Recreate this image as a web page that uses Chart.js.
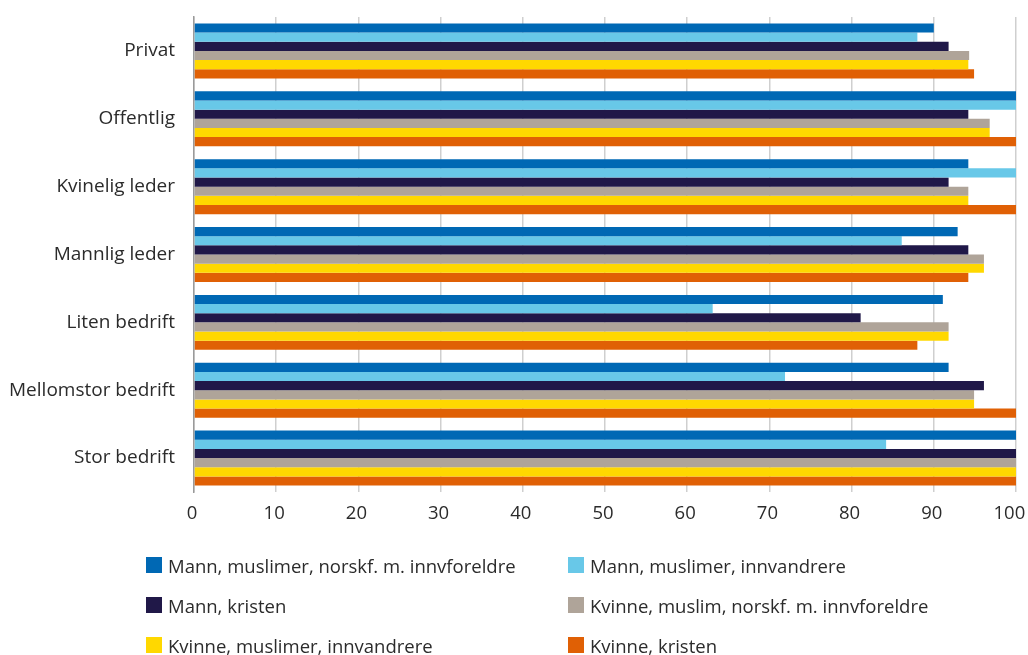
<!DOCTYPE html>
<html lang="no">
<head>
<meta charset="utf-8">
<title>Andel positive svar etter gruppe og arbeidsgiver</title>
<script src="https://cdn.jsdelivr.net/npm/chart.js@4/dist/chart.umd.min.js"></script>
<style>
  html, body { margin: 0; padding: 0; background: #fff; }
  body { width: 1028px; height: 655px; position: relative; overflow: hidden; font-family: "Open Sans", "DejaVu Sans", sans-serif; }
  #wrap { position: absolute; left: 0; top: 0; width: 1028px; height: 540px; }
  #legend { position: absolute; left: 0; top: 0; width: 1028px; height: 655px; pointer-events: none; }
  .item { position: absolute; height: 16px; display: flex; align-items: center; white-space: nowrap; font-size: 18.5px; color: #2b2b2b; }
  .box { width: 16px; height: 16px; margin-right: 6px; flex: none; }
</style>
</head>
<body>
<div id="wrap"><canvas id="chart"></canvas></div>
<div id="legend"></div>
<script>
// Categories (employer / contact-person type)
const categories = [
  "Privat",
  "Offentlig",
  "Kvinelig leder",
  "Mannlig leder",
  "Liten bedrift",
  "Mellomstor bedrift",
  "Stor bedrift"
];

// Series names
const seriesNames = [
  "Mann, muslimer, norskf. m. innvforeldre",
  "Mann, muslimer, innvandrere",
  "Mann, kristen",
  "Kvinne, muslim, norskf. m. innvforeldre",
  "Kvinne, muslimer, innvandrere",
  "Kvinne, kristen"
];

// Values per series, one per category (percent)
const mannMuslimNorskf   = [90,   100,  94.2, 92.9, 91.1, 91.8, 100];
const mannMuslimInnv     = [88,   100,  100,  86.1, 63.1, 71.9, 84.2];
const mannKristen        = [91.8, 94.2, 91.8, 94.2, 81.1, 96.1, 100];
const kvinneMuslimNorskf = [94.3, 96.8, 94.2, 96.1, 91.8, 94.9, 100];
const kvinneMuslimInnv   = [94.2, 96.8, 94.2, 96.1, 91.8, 94.9, 100];
const kvinneKristen      = [94.9, 100,  100,  94.2, 88.0, 100,  100];

// Value axis ticks
const xTicks = [0, 10, 20, 30, 40, 50, 60, 70, 80, 90, 100];

const seriesColors = ["#0068b4", "#68c8e8", "#201848", "#afa499", "#ffd800", "#e06005"];
const seriesValues = [mannMuslimNorskf, mannMuslimInnv, mannKristen, kvinneMuslimNorskf, kvinneMuslimInnv, kvinneKristen];

const FAMILY = '"Open Sans", "DejaVu Sans", sans-serif';
const TEXT = "#2b2b2b";

const datasets = seriesNames.map((name, i) => ({
  label: name,
  data: seriesValues[i],
  backgroundColor: seriesColors[i],
  borderWidth: 0,
  categoryPercentage: 0.81,
  barPercentage: 1.0
}));

const chart = new Chart(document.getElementById("chart"), {
  type: "bar",
  data: { labels: categories, datasets },
  options: {
    indexAxis: "y",
    responsive: true,
    maintainAspectRatio: false,
    animation: false,
    layout: { padding: { left: 0, right: 12, top: 17, bottom: 0 } },
    plugins: { legend: { display: false }, tooltip: { enabled: false } },
    scales: {
      x: {
        min: 0,
        max: 100,
        afterBuildTicks: (s) => { s.ticks = xTicks.map(v => ({ value: v })); },
        afterFit: (s) => { s.height = 48; s.paddingLeft = 0; s.paddingRight = 12; },
        ticks: {
          color: TEXT,
          font: { family: FAMILY, size: 18.5 },
          padding: 11,
          labelOffset: -2,
          maxRotation: 0,
          autoSkip: false,
          // keep the last label inside the canvas edge
          callback: (v) => (v === 100 ? "100\u2002" : String(v))
        },
        grid: { color: "#cfcfcf", lineWidth: 1.5, drawTicks: false },
        border: { display: false }
      },
      y: {
        afterFit: (s) => { s.width = 194; s.paddingTop = 0; s.paddingBottom = 0; },
        ticks: { color: TEXT, font: { family: FAMILY, size: 19 }, padding: 19 },
        grid: { display: false, drawTicks: false },
        border: { display: true, color: "#9a9a9a", width: 1.5 }
      }
    }
  }
});

// Two-column legend below the chart, built from the datasets
const legendPos = [
  [146, 557], [568, 557],
  [146, 597], [568, 597],
  [146, 637], [568, 637]
];
const legendEl = document.getElementById("legend");
chart.data.datasets.forEach((ds, i) => {
  const item = document.createElement("div");
  item.className = "item";
  item.style.left = legendPos[i][0] + "px";
  item.style.top = legendPos[i][1] + "px";
  const box = document.createElement("span");
  box.className = "box";
  box.style.background = ds.backgroundColor;
  const txt = document.createElement("span");
  txt.textContent = ds.label;
  item.appendChild(box);
  item.appendChild(txt);
  legendEl.appendChild(item);
});
</script>
</body>
</html>
